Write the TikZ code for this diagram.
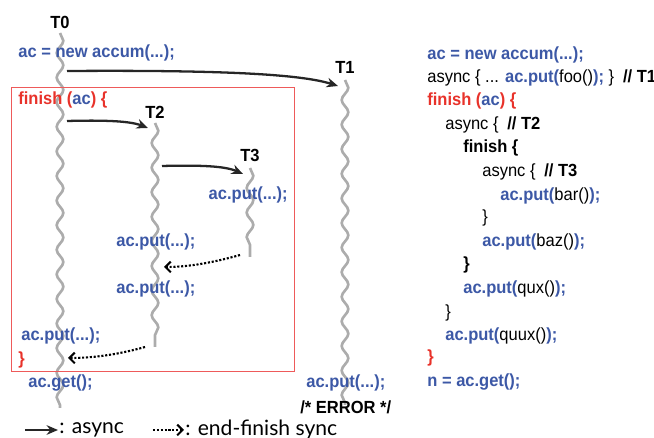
\documentclass[tikz,border=0pt]{standalone}
\usepackage{fontspec}
\setmainfont[FakeStretch=0.94]{Liberation Sans}
\newfontfamily\legendfont{Lato}
\usetikzlibrary{arrows.meta,decorations.pathmorphing}
\definecolor{codeblue}{RGB}{60,88,166}
\definecolor{codered}{RGB}{232,50,42}
\definecolor{boxred}{RGB}{238,90,90}
\definecolor{threadgray}{RGB}{172,172,172}
\newcommand{\kwblue}[1]{\textcolor{codeblue}{\textbf{#1}}}
\newcommand{\kwred}[1]{\textcolor{codered}{\textbf{#1}}}
\tikzset{
  thread/.style={threadgray, line width=1.5pt, decorate,
    decoration={snake, segment length=14pt, amplitude=1.9pt}},
  spawn/.style={-{Stealth[length=6.5pt,width=5.5pt]}, line width=1.3pt, black!85},
  syncline/.style={-{Straight Barb[length=3pt,width=6pt]}, line width=1.2pt, densely dotted},
  code/.style={anchor=west, inner sep=0pt},
  tlabel/.style={font=\bfseries, inner sep=0pt}
}
\begin{document}
\begin{tikzpicture}[x=0.02cm, y=-0.02cm, font=\fontsize{10}{12}\selectfont]
  \useasboundingbox (0,0) rectangle (654,438);
  % threads
  \coordinate (t0top) at (60,33);  \coordinate (t0bot) at (60,408);
  \coordinate (t1top) at (345,80); \coordinate (t1bot) at (345,405);
  \coordinate (t2top) at (155,123); \coordinate (t2bot) at (155,347);
  \coordinate (t3top) at (250,168); \coordinate (t3bot) at (250,257);
  \draw [thread] (t0top) -- (t0bot);
  \draw [thread] (t1top) -- (t1bot);
  \draw [thread] (t2top) -- (t2bot);
  \draw [thread] (t3top) -- (t3bot);
  \node [tlabel] (lt0) at (60,22) {T0};
  \node [tlabel] (lt1) at (345,67) {T1};
  \node [tlabel] (lt2) at (155,112) {T2};
  \node [tlabel] (lt3) at (250,155) {T3};
  % finish scope
  \node [draw=boxred, line width=0.8pt, inner sep=0pt, minimum width=283*0.02cm,
    minimum height=284*0.02cm, anchor=north west] (finbox) at (11,87) {};
  % statements
  \node [code] (newac) at (18,53) {\kwblue{ac = new accum(...);}};
  \node [code] (fin) at (18,100) {\kwred{finish (}\kwblue{ac}\kwred{) \{}};
  \node [code, anchor=east] (put3) at (288,195) {\kwblue{ac.put(...);}};
  \node [code] (put2a) at (116,242) {\kwblue{ac.put(...);}};
  \node [code] (put2b) at (116,289) {\kwblue{ac.put(...);}};
  \node [code] (put0) at (21,336) {\kwblue{ac.put(...);}};
  \node [code] (finend) at (18,360) {\kwred{\}}};
  \node [code] (get) at (28,383) {\kwblue{ac.get();}};
  \node [code] (put1) at (306,383) {\kwblue{ac.put(...);}};
  \node [code] (err) at (300,407) {\textbf{/* ERROR */}};
  % async arrows
  \coordinate (f1) at (67,71);  \coordinate (t1in) at (338,86);
  \coordinate (f2) at (67,121); \coordinate (t2in) at (148,128);
  \coordinate (f3) at (162,166); \coordinate (t3in) at (243,174);
  \draw [spawn] (f1) .. controls (220,70) and (300,74) .. (t1in);
  \draw [spawn] (f2) .. controls (105,120) and (130,121) .. (t2in);
  \draw [spawn] (f3) .. controls (200,165) and (225,166) .. (t3in);
  % end-finish joins
  \coordinate (j3) at (240,255); \coordinate (t2join) at (164,267);
  \coordinate (j2) at (145,347); \coordinate (t0join) at (68,358);
  \draw [syncline] (j3) .. controls (215,262) and (190,267) .. (t2join);
  \draw [syncline] (j2) .. controls (120,354) and (95,358) .. (t0join);
  % code listing
  \node [code] (l1) at (427,55) {\kwblue{ac = new accum(...);}};
  \node [code] (l2) at (427,78) {async \{ ... \kwblue{ac.put(}foo()\kwblue{);} \}\enspace\textbf{// T1}};
  \node [code] (l3) at (427,101) {\kwred{finish (}\kwblue{ac}\kwred{) \{}};
  \node [code] (l4) at (445,125) {async \{\enspace\textbf{// T2}};
  \node [code] (l5) at (463,148) {\textbf{finish \{}};
  \node [code] (l6) at (482,172) {async \{\enspace\textbf{// T3}};
  \node [code] (l7) at (500,196) {\kwblue{ac.put(}bar()\kwblue{);}};
  \node [code] (l8) at (482,218) {\}};
  \node [code] (l9) at (482,242) {\kwblue{ac.put(}baz()\kwblue{);}};
  \node [code] (l10) at (463,265) {\textbf{\}}};
  \node [code] (l11) at (463,289) {\kwblue{ac.put(}qux()\kwblue{);}};
  \node [code] (l12) at (445,313) {\}};
  \node [code] (l13) at (445,336) {\kwblue{ac.put(}quux()\kwblue{);}};
  \node [code] (l14) at (427,358) {\kwred{\}}};
  \node [code] (l15) at (427,382) {\kwblue{n = ac.get();}};
  % legend
  \coordinate (lga) at (25,430); \coordinate (lgb) at (58,430);
  \coordinate (lgc) at (153,430); \coordinate (lgd) at (184,430);
  \draw [spawn] (lga) -- (lgb);
  \draw [syncline] (lgc) -- (lgd);
  \node [code, font=\legendfont\fontsize{12}{14}\selectfont] (lgasync) at (59,430) {: async};
  \node [code, font=\legendfont\fontsize{12}{14}\selectfont] (lgsync) at (185,430) {: end-finish sync};
\end{tikzpicture}
\end{document}
